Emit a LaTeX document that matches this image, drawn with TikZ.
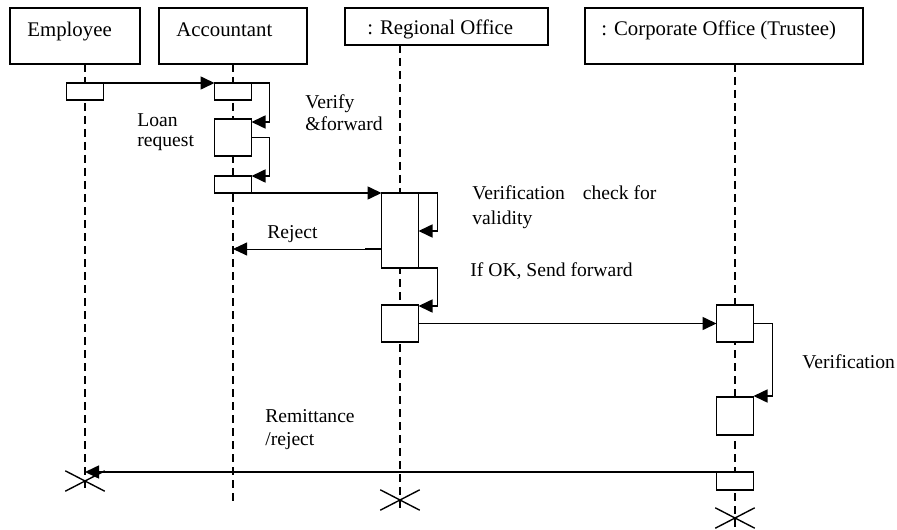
\documentclass[tikz,border=0pt]{standalone}
\usepackage{fontspec}
\setmainfont{Liberation Serif}
\usetikzlibrary{arrows.meta,shapes.misc,calc}
\tikzset{
  head/.style={draw,line width=0.7pt,anchor=north west,inner sep=0pt,outer sep=0pt},
  htext/.style={anchor=base west,inner sep=0pt,font=\fontsize{10.4}{12}\selectfont},
  note/.style={anchor=base west,inner sep=0pt,font=\fontsize{9.8}{12}\selectfont},
  act/.style={draw,fill=white,line width=0.75pt,inner sep=0pt,outer sep=0pt,minimum width=18.5pt},
  life/.style={line width=0.6pt,dash pattern=on 4pt off 2.5pt},
  msg/.style={line width=0.8pt,-{Triangle[length=7pt,width=6.5pt]}},
  thinmsg/.style={line width=0.45pt,-{Triangle[length=7pt,width=6.5pt]}},
  xmark/.style={cross out,draw,line width=0.7pt,minimum width=19pt,minimum height=9.5pt,inner sep=0pt}
}
\begin{document}
\begin{tikzpicture}[x=0.5pt,y=-0.5pt]
\useasboundingbox (0,0) rectangle (897,529);

% object headers
\node[head,minimum width=65pt,minimum height=28pt] (emp) at (10,8) {};
\node[head,minimum width=74pt,minimum height=28pt] (acc) at (159,8) {};
\node[head,minimum width=101.5pt,minimum height=18.5pt] (reg) at (345,8) {};
\node[head,minimum width=139pt,minimum height=28pt] (corp) at (585,8) {};
\node[htext] (empT) at (27,37) {Employee};
\node[htext] (accT) at (176,37) {Accountant};
\node[htext] (regT) at (367,35) {: Regional Office};
\node[htext] (corpT) at (601,36) {: Corporate Office (Trustee)};

% lifeline ends
\coordinate (eEnd) at (85,491);
\coordinate (aEnd) at (233,505);
\coordinate (rEnd) at (400,510);
\coordinate (cEnd) at (735,529);

% lifelines
\draw[life] (emp.south -| eEnd) -- (eEnd);
\draw[life] (acc.south -| aEnd) -- (aEnd);
\draw[life] (reg.south -| rEnd) -- (rEnd);
\draw[life] (corp.south -| cEnd) -- (cEnd);

% activation boxes
\node[act,minimum height=8.5pt] (eA) at (85,91.5) {};
\node[act,minimum height=8.5pt] (aA1) at (233,91.5) {};
\node[act,minimum height=18.5pt] (aA2) at (233,137.5) {};
\node[act,minimum height=8.5pt] (aA3) at (233,184.5) {};
\node[act,minimum height=37.5pt] (rA1) at (400,230.5) {};
\node[act,minimum height=18.5pt] (rA2) at (400,323.5) {};
\node[act,minimum height=18.5pt] (cA1) at (735,323.5) {};
\node[act,minimum height=19pt] (cA2) at (735,416) {};
\node[act,minimum height=9pt] (cA3) at (735,481) {};

% messages
\draw[msg] (eA.north east) -- (aA1.north west);
\draw[msg] (aA1.north east) -- ++(18,0) |- ($(aA2.north east)+(0,3)$);
\draw[msg] (aA2.east) -- ++(18,0) |- (aA3.north east);
\draw[msg] (aA3.south) -- (rA1.north west);
\draw[msg] (rA1.north east) -- ++(19,0) |- ($(rA1.north east)+(0,38)$);
\coordinate (rej) at ($(rA1.north west)+(0,56)$);
\draw[line width=0.8pt] (rej) -- ++(-17,0);
\draw[thinmsg] (rej) -- (rej -| aEnd);
\draw[msg] (rA1.south east) -- ++(19,0) |- ($(rA2.north east)+(0,1)$);
\draw[msg] (rA2.east) -- (cA1.west);
\draw[msg] (cA1.east) -- ++(19,0) |- ($(cA2.north east)+(0,-1)$);
\draw[msg] (cA3.north west) -- (cA3.north west -| eEnd);

% destruction marks
\node[xmark] (eX) at (85,481) {};
\node[xmark] (rX) at (400,500) {};
\node[xmark] (cX) at (735,518) {};

% message labels
\node[note] (loan1) at (137,127) {Loan};
\node[note] (loan2) at (137,147) {request};
\node[note] (ver1) at (305,109) {Verify};
\node[note] (ver2) at (305,131) {\&forward};
\node[note] (chk1) at (472,199) {Verification\hspace{9pt}check for};
\node[note] (chk2) at (472,224) {validity};
\node[note] (rejT) at (267,238) {Reject};
\node[note] (okT) at (470,276) {If OK, Send forward};
\node[note] (cverT) at (802,368) {Verification};
\node[note] (rem1) at (265,422) {Remittance};
\node[note] (rem2) at (265,445) {/reject};
\end{tikzpicture}
\end{document}
